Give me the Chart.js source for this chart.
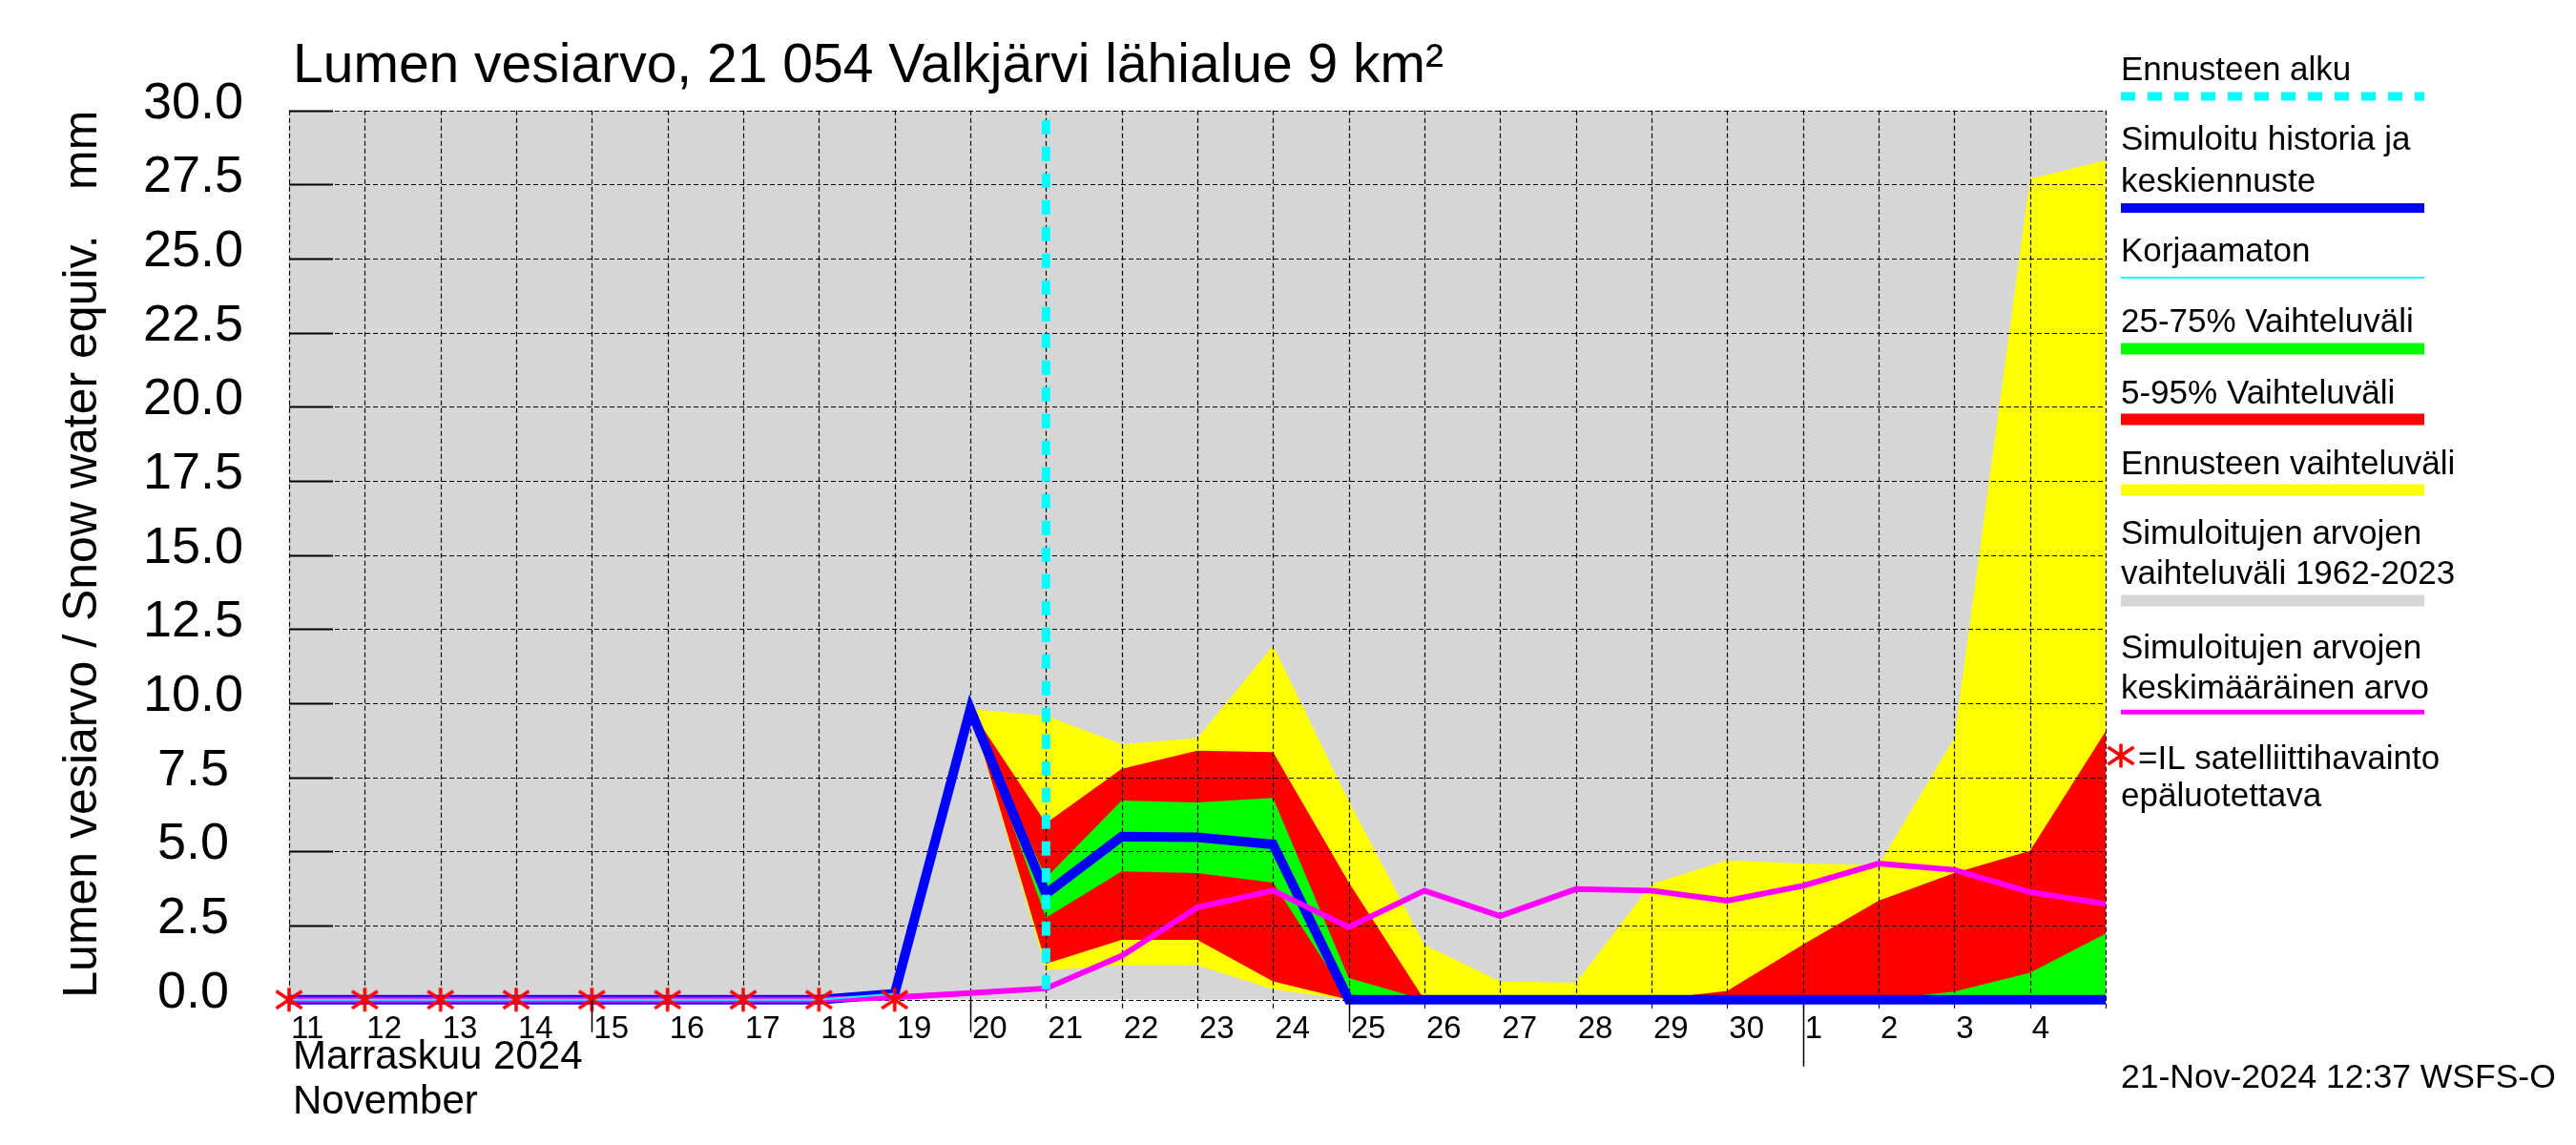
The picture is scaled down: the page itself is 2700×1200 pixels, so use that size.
<!DOCTYPE html>
<html>
<head>
<meta charset="utf-8">
<title>Lumen vesiarvo, 21 054 Valkjärvi lähialue</title>
<script src="https://cdn.jsdelivr.net/npm/chart.js@4.4.1/dist/chart.umd.min.js"></script>
<style>
  html, body { margin: 0; padding: 0; background: #fff; }
</style>
</head>
<body>
<canvas id="swe-chart" width="2700" height="1200"></canvas>
<script>
'use strict';

// --- x axis: one point per day, 11 Nov .. 5 Dec 2024 ---
const dayLabels = ['11', '12', '13', '14', '15', '16', '17', '18', '19', '20',
  '21', '22', '23', '24', '25', '26', '27', '28', '29', '30',
  '1', '2', '3', '4', ''];

const yTicks = [0, 2.5, 5, 7.5, 10, 12.5, 15, 17.5, 20, 22.5, 25, 27.5, 30];

// --- series (mm) ---
const satelliteObs = [0, 0, 0, 0, 0, 0, 0, 0, 0,
  null, null, null, null, null, null, null, null, null, null, null, null, null, null, null, null];
const uncorrected = [0, 0, 0, 0, 0, 0, 0, 0, 0.2,
  null, null, null, null, null, null, null, null, null, null, null, null, null, null, null, null];
const simMedian = [0, 0, 0, 0, 0, 0, 0, 0, 0.2, 9.8, 3.57, 5.5, 5.48, 5.24, 0,
  0, 0, 0, 0, 0, 0, 0, 0, 0, 0];
const simMean = [0, 0, 0, 0, 0, 0, 0, 0, 0.08, 0.22, 0.38, 1.48, 3.11, 3.68, 2.45,
  3.68, 2.82, 3.73, 3.68, 3.34, 3.84, 4.59, 4.38, 3.63, 3.23];

const p75 = [null, null, null, null, null, null, null, null, null,
  9.8, 4.11, 6.72, 6.65, 6.81, 0.73, 0, 0, 0, 0, 0, 0, 0, 0.27, 0.91, 2.23];
const p25 = [null, null, null, null, null, null, null, null, null,
  9.8, 2.77, 4.33, 4.27, 3.95, 0, 0, 0, 0, 0, 0, 0, 0, 0, 0, 0];
const p95 = [null, null, null, null, null, null, null, null, null,
  9.8, 5.95, 7.79, 8.4, 8.35, 3.96, 0, 0, 0, 0, 0.3, 1.86, 3.34, 4.27, 5.02, 9.05];
const p05 = [null, null, null, null, null, null, null, null, null,
  9.8, 1.21, 2.02, 2.02, 0.62, 0, 0, 0, 0, 0, 0, 0, 0, 0, 0, 0];
const fcMax = [null, null, null, null, null, null, null, null, null,
  9.8, 9.58, 8.62, 8.83, 11.94, 6.7, 1.85, 0.62, 0.57, 3.9, 4.7, 4.59, 4.54, 8.83, 27.69, 28.32];
const fcMin = [null, null, null, null, null, null, null, null, null,
  9.8, 1.0, 1.16, 1.16, 0.35, 0, 0, 0, 0, 0, 0, 0, 0, 0, 0, 0];
const histMax = [30, 30, 30, 30, 30, 30, 30, 30, 30, 30, 30, 30, 30, 30, 30,
  30, 30, 30, 30, 30, 30, 30, 30, 30, 30];
const histMin = [0, 0, 0, 0, 0, 0, 0, 0, 0, 0, 0, 0, 0, 0, 0,
  0, 0, 0, 0, 0, 0, 0, 0, 0, 0];

const forecastStart = 10;      // index of 21 Nov
const fiveDayTicks = [4, 9, 14];
const monthStart = 20;         // index of 1 Dec

const FONT = "'Liberation Sans', Arial, Helvetica, sans-serif";
const NONE = 'rgba(0,0,0,0)';

// --- red asterisk used for the satellite observations ---
function drawAsterisk(g, cx, cy) {
  g.save();
  g.strokeStyle = '#ff0000';
  g.lineWidth = 3.5;
  g.beginPath();
  g.moveTo(cx, cy - 12.5); g.lineTo(cx, cy + 12.5);
  g.moveTo(cx - 13.5, cy - 9); g.lineTo(cx + 13.5, cy + 9);
  g.moveTo(cx - 13.5, cy + 9); g.lineTo(cx + 13.5, cy - 9);
  g.stroke();
  g.restore();
}
const asteriskImg = document.createElement('canvas');
asteriskImg.width = 32; asteriskImg.height = 32;
drawAsterisk(asteriskImg.getContext('2d'), 16, 16);

function band(label, data, color, fill) {
  return { label, data, fill, backgroundColor: color, borderColor: NONE,
    borderWidth: 0, pointRadius: 0 };
}

// --- grid, forecast line, texts and legend ---
const decorations = {
  id: 'decorations',
  beforeDatasetDraw(chart, args) {
    if (chart.data.datasets[args.index].label !== 'sim') return;
    // grid goes over the bands but under the lines
    const { ctx, chartArea: a, scales: { x, y } } = chart;
    ctx.save();
    ctx.strokeStyle = '#000';
    ctx.lineWidth = 1.2;
    ctx.setLineDash([5, 3]);
    ctx.beginPath();
    dayLabels.forEach((d, i) => {
      const px = Math.round(x.getPixelForValue(i)) + 0.5;
      ctx.moveTo(px, a.top); ctx.lineTo(px, a.bottom + 9);
    });
    y.ticks.forEach(t => {
      const py = Math.round(y.getPixelForValue(t.value)) + 0.5;
      ctx.moveTo(a.left, py); ctx.lineTo(a.right, py);
    });
    ctx.stroke();
    ctx.setLineDash([]);
    ctx.lineWidth = 2;
    ctx.beginPath();
    y.ticks.forEach(t => {
      const py = Math.round(y.getPixelForValue(t.value)) + 0.5;
      ctx.moveTo(a.left, py); ctx.lineTo(a.left + 46, py);
    });
    ctx.stroke();
    ctx.restore();
  },
  afterDatasetsDraw(chart) {
    const { ctx, chartArea: a, scales: { x } } = chart;
    const px = x.getPixelForValue(forecastStart);
    ctx.save();
    ctx.strokeStyle = '#00ffff';
    ctx.lineWidth = 9;
    ctx.setLineDash([15, 13]);
    ctx.beginPath();
    ctx.moveTo(px, a.top + 10); ctx.lineTo(px, a.bottom - 4);
    ctx.stroke();
    ctx.restore();
  },
  afterDraw(chart) {
    const { ctx, chartArea: a, scales: { x } } = chart;
    ctx.save();
    // ticks below the axis
    ctx.strokeStyle = '#000';
    ctx.lineWidth = 1.5;
    ctx.beginPath();
    fiveDayTicks.forEach(i => {
      const px = Math.round(x.getPixelForValue(i)) + 0.5;
      ctx.moveTo(px, a.bottom); ctx.lineTo(px, a.bottom + 34);
    });
    const mx = Math.round(x.getPixelForValue(monthStart)) + 0.5;
    ctx.moveTo(mx, a.bottom + 5); ctx.lineTo(mx, a.bottom + 70);
    ctx.stroke();

    ctx.fillStyle = '#000';
    ctx.textBaseline = 'alphabetic';
    ctx.textAlign = 'left';

    // title
    ctx.font = '57px ' + FONT;
    ctx.fillText('Lumen vesiarvo, 21 054 Valkjärvi lähialue 9 km²', 307, 86);

    // month under the axis
    ctx.font = '42px ' + FONT;
    ctx.fillText('Marraskuu 2024', 307, 1120);
    ctx.fillText('November', 307, 1167);

    // y axis title, rotated
    ctx.save();
    ctx.translate(101, a.bottom - 2);
    ctx.rotate(-Math.PI / 2);
    ctx.font = '50px ' + FONT;
    ctx.textAlign = 'left';
    ctx.fillText('Lumen vesiarvo / Snow water equiv.', 0, 0);
    ctx.textAlign = 'right';
    ctx.fillText('mm', a.bottom - a.top - 2, 0);
    ctx.restore();

    // legend
    const lx0 = 2223, lx1 = 2541;
    const legendLines = [
      { y: 101, color: '#00ffff', width: 9, dash: [15, 13] },
      { y: 218, color: '#0000ff', width: 10 },
      { y: 291, color: '#00ffff', width: 2 },
      { y: 365.5, color: '#00ff00', width: 12 },
      { y: 439.5, color: '#ff0000', width: 12 },
      { y: 513.5, color: '#ffff00', width: 12 },
      { y: 629.6, color: '#d6d6d6', width: 12 },
      { y: 746.3, color: '#ff00ff', width: 5 }
    ];
    legendLines.forEach(l => {
      ctx.save();
      ctx.strokeStyle = l.color;
      ctx.lineWidth = l.width;
      ctx.setLineDash(l.dash || []);
      ctx.beginPath();
      ctx.moveTo(lx0, l.y); ctx.lineTo(lx1, l.y);
      ctx.stroke();
      ctx.restore();
    });
    const legendTexts = [
      ['Ennusteen alku', 84],
      ['Simuloitu historia ja', 157],
      ['keskiennuste', 201],
      ['Korjaamaton', 274],
      ['25-75% Vaihteluväli', 348],
      ['5-95% Vaihteluväli', 423],
      ['Ennusteen vaihteluväli', 497],
      ['Simuloitujen arvojen', 570],
      ['vaihteluväli 1962-2023', 612],
      ['Simuloitujen arvojen', 690],
      ['keskimääräinen arvo', 732],
      ['epäluotettava', 845]
    ];
    ctx.font = '35px ' + FONT;
    ctx.textAlign = 'left';
    legendTexts.forEach(([t, ty]) => ctx.fillText(t, lx0, ty));
    drawAsterisk(ctx, 2223, 792);
    ctx.fillText('=IL satelliittihavainto', 2241, 806);

    // footer
    ctx.font = '35.5px ' + FONT;
    ctx.fillText('21-Nov-2024 12:37 WSFS-O', 2223, 1140);
    ctx.restore();
  }
};

new Chart(document.getElementById('swe-chart').getContext('2d'), {
  type: 'line',
  data: {
    labels: dayLabels,
    datasets: [
      { label: 'sat', data: satelliteObs, showLine: false, pointStyle: asteriskImg,
        pointRadius: 14, borderColor: '#ff0000', clip: false },
      { label: 'uncorr', data: uncorrected, borderColor: '#00ffff', borderWidth: 2,
        pointRadius: 0, clip: false },
      { label: 'mean', data: simMean, borderColor: '#ff00ff', borderWidth: 6,
        pointRadius: 0, clip: false },
      { label: 'sim', data: simMedian, borderColor: '#0000ff', borderWidth: 10,
        pointRadius: 0, clip: false },
      band('p75', p75, '#00ff00', '+1'),
      band('p25', p25, '#00ff00', false),
      band('p95', p95, '#ff0000', '+1'),
      band('p05', p05, '#ff0000', false),
      band('fcMax', fcMax, '#ffff00', '+1'),
      band('fcMin', fcMin, '#ffff00', false),
      band('histMax', histMax, '#d6d6d6', '+1'),
      band('histMin', histMin, '#d6d6d6', false)
    ]
  },
  options: {
    responsive: false,
    animation: false,
    devicePixelRatio: 1,
    events: [],
    layout: { padding: { top: 115.7, right: 493, left: 0, bottom: 0 } },
    plugins: { legend: { display: false }, tooltip: { enabled: false }, title: { display: false } },
    scales: {
      x: {
        type: 'category',
        offset: false,
        grid: { display: false },
        border: { display: false },
        ticks: {
          autoSkip: false, maxRotation: 0, minRotation: 0,
          align: 'start', labelOffset: 2, padding: 3,
          color: '#000', font: { family: FONT, size: 33 }
        },
        afterFit(scale) { scale.height = 152.3; }
      },
      y: {
        min: 0, max: 30,
        afterBuildTicks(scale) { scale.ticks = yTicks.map(v => ({ value: v })); },
        grid: { display: false },
        border: { display: false },
        ticks: {
          padding: 40, crossAlign: 'center', labelOffset: -7,
          color: '#000', font: { family: FONT, size: 54 },
          callback: v => Number(v).toFixed(1)
        },
        afterFit(scale) { scale.width = 303; }
      }
    }
  },
  plugins: [decorations]
});
</script>
</body>
</html>
